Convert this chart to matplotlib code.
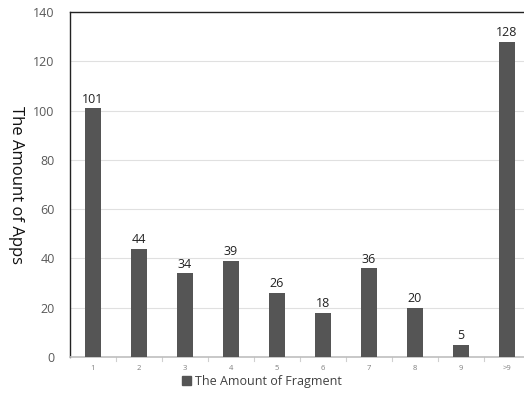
import matplotlib.pyplot as plt
from matplotlib.patches import Patch

categories = ['1', '2', '3', '4', '5', '6', '7', '8', '9', '>9']
apps = [101, 44, 34, 39, 26, 18, 36, 20, 5, 128]

bar_color = '#555555'
plt.rcParams['font.family'] = ['Open Sans', 'DejaVu Sans']

fig = plt.figure(figsize=(5.24, 3.99), dpi=100)
# plot area runs slightly past the right edge of the canvas
ax = fig.add_axes([70 / 524, 42 / 399, 460 / 524, 345 / 399])

x = list(range(len(categories)))
bars = ax.bar(x, apps, width=0.33, color=bar_color, zorder=3)
for xi, v in zip(x, apps):
    ax.text(xi, v + 1, str(v), ha='center', va='bottom', fontsize=9, color='#222222')

ax.set_xlim(-0.5, len(categories) - 0.5)
ax.set_ylim(0, 140)
ax.set_yticks(range(0, 141, 20))
ax.set_xticks(x)
ax.set_xticklabels(categories)
ax.tick_params(axis='y', length=0, labelsize=9, labelcolor='#595959', pad=11)
ax.tick_params(axis='x', length=0, labelsize=5.5, labelcolor='#7f7f7f', pad=6)
ax.grid(axis='y', color='#e0e0e0', linewidth=0.8, zorder=0)

for s in ['left', 'top']:
    ax.spines[s].set_color('#222222')
    ax.spines[s].set_linewidth(1.0)
ax.spines['right'].set_visible(False)
ax.spines['bottom'].set_color('#bfbfbf')
ax.spines['bottom'].set_linewidth(1.2)

# small ticks between categories
for b in range(1, len(categories)):
    ax.plot([b - 0.5, b - 0.5], [0, -1.5], color='#d0d0d0', lw=0.8, clip_on=False)

ax.set_ylabel('The Amount of Apps', fontsize=12, color='#111111', rotation=270)
ax.yaxis.label.set_va('center')
ax.yaxis.label.set_ha('center')
ax.yaxis.set_label_coords(-0.117, 0.5)

handle = Patch(color=bar_color)
fig.legend([handle], ['The Amount of Fragment'], loc='lower center',
           bbox_to_anchor=(0.5, 0.0), frameon=False, fontsize=9,
           handlelength=0.7, handleheight=0.7, handletextpad=0.3,
           labelcolor='#404040')

fig.savefig('out.png', dpi=100)
